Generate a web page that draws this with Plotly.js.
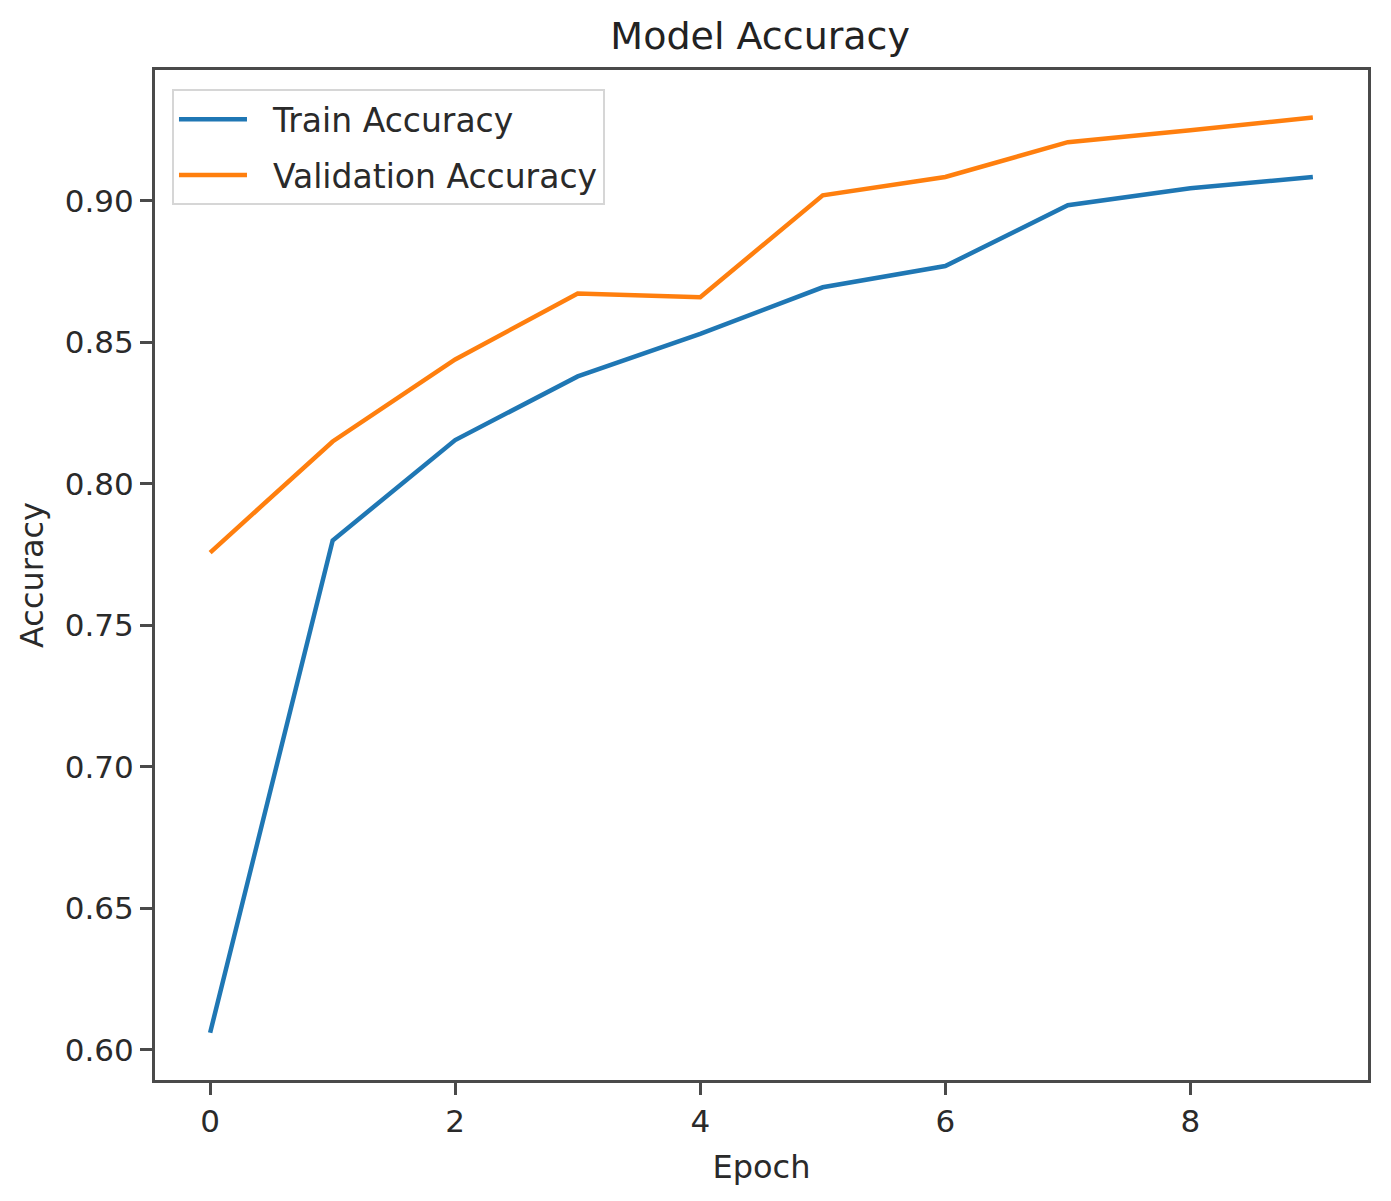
<!DOCTYPE html>
<html>
<head>
<meta charset="utf-8">
<script src="https://cdn.plot.ly/plotly-3.0.1.min.js"></script>
<style>html,body{margin:0;padding:0;background:#fff;}#chart{width:1391px;height:1201px;}</style>
</head>
<body>
<div id="chart"></div>
<script>
const epochs = [0, 1, 2, 3, 4, 5, 6, 7, 8, 9];
const trainAccuracy = [0.606, 0.780, 0.8155, 0.838, 0.8530, 0.8695, 0.877, 0.8985, 0.9045, 0.9085];
const validationAccuracy = [0.7757, 0.8150, 0.844, 0.8673, 0.866, 0.902, 0.9085, 0.9208, 0.925, 0.9295];
const xTicks = [0, 2, 4, 6, 8];
const yTicks = [0.60, 0.65, 0.70, 0.75, 0.80, 0.85, 0.90];
const seriesNames = ['Train Accuracy', 'Validation Accuracy'];

const font = "DejaVu Sans, sans-serif";
const gap = '\u00a0\u00a0';
const traces = [
  {x: epochs, y: trainAccuracy, type: 'scatter', mode: 'lines', name: gap + seriesNames[0], legendgroup: 'a',
   line: {color: '#1f77b4', width: 4.5}},
  {x: epochs, y: validationAccuracy, type: 'scatter', mode: 'lines', name: gap + seriesNames[1], legendgroup: 'b',
   line: {color: '#ff7f0e', width: 4.5}}
];
const layout = {
  width: 1391, height: 1201,
  margin: {l: 155, r: 23, t: 70, b: 121},
  paper_bgcolor: '#fff', plot_bgcolor: '#fff',
  font: {family: font, size: 31, color: '#2a2a2a'},
  title: {text: 'Model Accuracy', font: {family: font, size: 38, color: '#222'}, x: 0.5465, xanchor: 'center', y: 0.97, yanchor: 'middle'},
  showlegend: true,
  legend: {x: 0.014, y: 0.981, xanchor: 'left', yanchor: 'top', bgcolor: 'rgba(255,255,255,0.8)',
    bordercolor: '#d6d6d6', borderwidth: 2, font: {family: font, size: 33, color: '#2a2a2a'},
    itemwidth: 68, traceorder: 'grouped', tracegroupgap: 10},
  xaxis: {range: [-0.45, 9.45], tickmode: 'array', tickvals: xTicks, ticktext: xTicks.map(String),
    showgrid: false, zeroline: false, showline: true, mirror: true, linecolor: '#4a4a4a', linewidth: 3,
    ticks: 'outside', ticklen: 12, tickwidth: 3, tickcolor: '#4a4a4a',
    tickfont: {family: font, size: 31, color: '#2a2a2a'},
    title: {text: 'Epoch', font: {family: font, size: 32, color: '#2a2a2a'}, standoff: 18}},
  yaxis: {range: [0.5893, 0.9463], tickmode: 'array', tickvals: yTicks, ticktext: yTicks.map(v => v.toFixed(2)),
    showgrid: false, zeroline: false, showline: true, mirror: true, linecolor: '#4a4a4a', linewidth: 3,
    ticks: 'outside', ticklen: 12, tickwidth: 3, tickcolor: '#4a4a4a',
    tickfont: {family: font, size: 31, color: '#2a2a2a'},
    title: {text: 'Accuracy', font: {family: font, size: 32, color: '#2a2a2a'}, standoff: 12}}
};
Plotly.newPlot('chart', traces, layout, {displayModeBar: false, staticPlot: true});
</script>
</body>
</html>
